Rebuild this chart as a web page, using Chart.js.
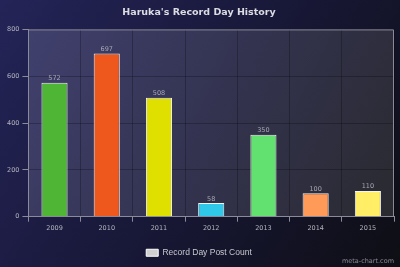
<!DOCTYPE html>
<html>
<head>
<meta charset="utf-8">
<script src="https://cdn.jsdelivr.net/npm/chart.js@4"></script>
<style>
  html, body { margin: 0; padding: 0; background: #141428; }
  #wrap { width: 400px; height: 267px; position: relative; }
</style>
</head>
<body>
<div id="wrap"><canvas id="chart"></canvas></div>
<script>
  var years = ['2009', '2010', '2011', '2012', '2013', '2014', '2015'];
  var postCounts = [572, 697, 508, 58, 350, 100, 110];
  var barColors = ['#4fb535', '#ee581c', '#e0e000', '#30c8e8', '#62e070', '#ff9a58', '#ffee66'];
  var yTicks = [0, 200, 400, 600, 800];

  var backdrop = {
    id: 'backdrop',
    beforeDraw: function (chart) {
      var ctx = chart.ctx;
      var w = chart.width, h = chart.height;
      var g = ctx.createLinearGradient(0, 0, w, h);
      g.addColorStop(0, '#242458');
      g.addColorStop(0.5, '#181838');
      g.addColorStop(1, '#0e0e14');
      ctx.save();
      ctx.fillStyle = g;
      ctx.fillRect(0, 0, w, h);
      var a = chart.chartArea;
      var g2 = ctx.createLinearGradient(a.left, a.top, a.right, a.bottom);
      g2.addColorStop(0, '#40406e');
      g2.addColorStop(0.5, '#333350');
      g2.addColorStop(1, '#2a2a30');
      ctx.fillStyle = g2;
      ctx.fillRect(a.left, a.top, a.right - a.left, a.bottom - a.top);
      ctx.restore();
    },
    beforeDatasetsDraw: function (chart) {
      var ctx = chart.ctx;
      var a = chart.chartArea;
      ctx.save();
      ctx.strokeStyle = '#8a8a9a';
      ctx.lineWidth = 1;
      ctx.beginPath();
      ctx.moveTo(a.left, a.top + 0.5);
      ctx.lineTo(a.right - 0.5, a.top + 0.5);
      ctx.lineTo(a.right - 0.5, a.bottom);
      ctx.stroke();
      ctx.restore();
    },
    afterDatasetsDraw: function (chart) {
      var ctx = chart.ctx;
      var meta = chart.getDatasetMeta(0);
      ctx.save();
      ctx.fillStyle = '#a8a8b4';
      ctx.font = '6.5px "DejaVu Sans"';
      ctx.textAlign = 'center';
      ctx.textBaseline = 'bottom';
      meta.data.forEach(function (bar, i) {
        ctx.fillText(String(postCounts[i]), bar.x, bar.y - 1);
      });
      ctx.fillStyle = '#8a8a96';
      ctx.textAlign = 'right';
      ctx.textBaseline = 'middle';
      ctx.fillText('meta-chart.com', 394, 261);
      ctx.restore();
    }
  };

  new Chart(document.getElementById('chart'), {
    type: 'bar',
    data: {
      labels: years,
      datasets: [{
        label: 'Record Day Post Count',
        data: postCounts,
        backgroundColor: barColors,
        borderColor: '#f4f4f4',
        borderWidth: 1,
        barPercentage: 0.5,
        categoryPercentage: 1
      }]
    },
    options: {
      responsive: true,
      maintainAspectRatio: false,
      animation: false,
      layout: { padding: { left: 4, right: 6, top: 0, bottom: 0 } },
      plugins: {
        title: {
          display: true,
          text: "Haruka's Record Day History",
          color: '#dcdce4',
          font: { family: 'DejaVu Sans', size: 9.5, weight: 'bold' },
          padding: { top: 7, bottom: 11 }
        },
        legend: {
          position: 'bottom',
          labels: {
            color: '#c8c8d0',
            font: { family: 'Liberation Sans', size: 8.5 },
            boxWidth: 12,
            boxHeight: 7,
            padding: 13,
            generateLabels: function () {
              return [{
                text: 'Record Day Post Count',
                fillStyle: '#d0d0d0',
                strokeStyle: '#ffffff',
                lineWidth: 1,
                fontColor: '#c8c8d0',
                datasetIndex: 0
              }];
            }
          }
        },
        tooltip: { enabled: false }
      },
      scales: {
        x: {
          grid: {
            offset: true,
            color: 'rgba(0,0,0,0.25)',
            tickColor: '#8a8a9a',
            tickLength: 5
          },
          border: { color: '#8a8a9a' },
          ticks: {
            color: '#b4b4c0',
            font: { family: 'DejaVu Sans', size: 6.5 },
            padding: 3
          }
        },
        y: {
          min: 0,
          max: 800,
          afterBuildTicks: function (axis) {
            axis.ticks = yTicks.map(function (v) { return { value: v }; });
          },
          grid: {
            color: 'rgba(0,0,0,0.25)',
            tickColor: '#8a8a9a',
            tickLength: 6
          },
          border: { color: '#8a8a9a' },
          ticks: {
            color: '#b4b4c0',
            font: { family: 'DejaVu Sans', size: 6.5 },
            padding: 3
          }
        }
      }
    },
    plugins: [backdrop]
  });
</script>
</body>
</html>
